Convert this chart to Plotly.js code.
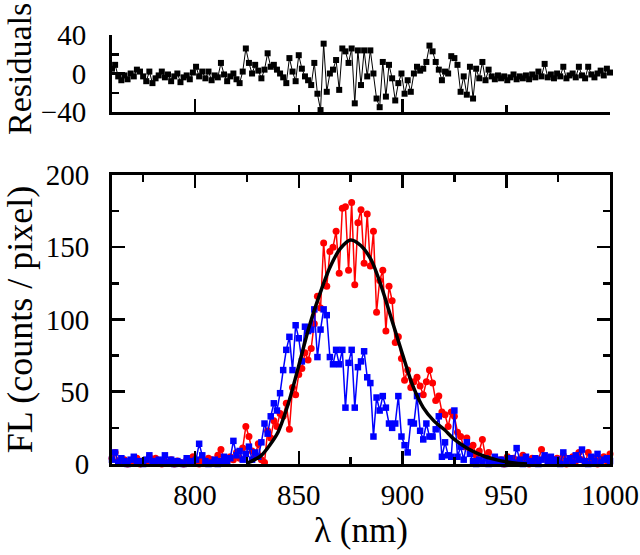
<!DOCTYPE html>
<html>
<head>
<meta charset="utf-8">
<script src="https://cdn.plot.ly/plotly-3.0.1.min.js"></script>
<style>html,body{margin:0;padding:0;background:#fff;}#chart{width:640px;height:555px;}</style>
</head>
<body>
<div id="chart"></div>
<script>
// Wavelength grid (nm)
const wavelength = [
760,761.5,763,764.5,766,767.5,769,770.5,772,773.5,
775,776.5,778,779.5,781,782.5,784,785.5,787,788.5,
790,791.5,793,794.5,796,797.5,799,800.5,802,803.5,
805,806.5,808,809.5,811,812.5,814,815.5,817,818.5,
820,821.5,823,824.5,826,827.5,829,830.5,832,833.5,
835,836.5,838,839.5,841,842.5,844,845.5,847,848.5,
850,851.5,853,854.5,856,857.5,859,860.5,862,863.5,
865,866.5,868,869.5,871,872.5,874,875.5,877,878.5,
880,881.5,883,884.5,886,887.5,889,890.5,892,893.5,
895,896.5,898,899.5,901,902.5,904,905.5,907,908.5,
910,911.5,913,914.5,916,917.5,919,920.5,922,923.5,
925,926.5,928,929.5,931,932.5,934,935.5,937,938.5,
940,941.5,943,944.5,946,947.5,949,950.5,952,953.5,
955,956.5,958,959.5,961,962.5,964,965.5,967,968.5,
970,971.5,973,974.5,976,977.5,979,980.5,982,983.5,
985,986.5,988,989.5,991,992.5,994,995.5,997,998.5,
1000];

// Red spectrum (counts / pixel)
const redFL = [
4,8,2,1,3,0,2,1,4,0,
2,1,5,3,4,1,0,2,1,3,
0,2,1,0,3,1,5,2,0,3,
1,4,3,1,6,10,4,2,5,3,
8,4,11,26,19,9,6,14,3,1,
23,18,30,26,35,33,42,24,53,48,
62,66,77,72,80,97,116,108,153,123,
147,150,161,132,177,178,134,181,124,167,
176,139,173,137,161,105,127,134,92,123,
113,84,88,73,58,65,53,57,60,54,
48,57,65,56,44,47,36,34,26,36,
33,22,19,12,18,10,13,6,9,17,
5,8,2,4,1,3,0,5,2,4,
1,3,6,2,0,4,1,3,10,5,
2,4,1,4,2,6,0,3,5,2,
8,3,1,8,2,4,0,3,5,2,
7];

// Blue spectrum (counts / pixel)
const blueFL = [
3,8,1,4,2,0,3,5,1,2,
0,3,6,2,1,3,2,6,1,3,
0,2,1,0,4,2,1,3,14,6,
2,0,1,3,0,2,5,1,4,16,
6,9,3,7,12,3,8,5,15,28,
21,33,42,37,49,65,79,88,65,96,
87,71,95,92,93,107,74,93,107,103,
74,69,79,69,79,39,70,79,39,67,
71,78,60,56,19,46,37,47,39,28,
25,28,47,19,13,8,29,28,47,23,
17,28,19,19,24,33,5,15,6,5,
37,5,12,3,15,7,2,0,3,1,
4,0,2,5,1,3,0,2,4,1,
11,3,0,5,2,1,4,0,3,6,
2,5,1,3,0,8,2,4,1,6,
3,10,2,0,5,2,7,1,3,4,
2];

// Residuals of the fit
const residuals = [
5,9,-3,-7,-2,-6,0,-3,4,2,
-3,-8,2,-10,-5,-2,2,-4,-1,-8,
-3,0,-9,-4,-2,-6,1,7,-3,2,
-5,2,-7,-2,-4,11,-1,-8,-3,0,
-6,-10,2,26,11,0,9,3,-5,4,
21,7,9,4,0,-4,-10,16,2,-8,
19,5,-3,-7,-12,11,-21,-38,31,-19,
0,4,14,-17,26,23,11,26,-31,24,
-12,24,-3,24,0,-26,-35,12,-24,9,
-5,-28,-10,0,-21,-7,-19,0,7,3,
5,12,29,23,12,4,-7,2,0,18,
16,9,-19,-3,-22,7,-26,5,-5,12,
-7,4,-3,-6,-2,-5,-3,-7,-4,-1,
-6,-3,-5,-2,-6,-1,-4,2,-3,10,
-4,-1,-5,0,-3,7,-5,-2,0,-4,
7,-2,-5,7,-1,-4,0,3,-2,5,
1];

// Fit curve
const fitX = [825,828,832,836,840,845,850,855,860,865,870,875,880,885,890,895,900,905,910,915,920,925,930,935,940,945,950,955,960];
const fitY = [0.5,2.5,6,13,22,42,68,95,117,136,149,155,151,141,122,99,76,54,39,30,24,17,12,8,5,3,1.5,0.5,0];

const FONT = '"Liberation Serif", "Times New Roman", Times, serif';

const traces = [
  {x: wavelength, y: redFL, xaxis: 'x', yaxis: 'y', type: 'scatter', mode: 'lines+markers',
   line: {color: '#ff0000', width: 1.5}, marker: {symbol: 'circle', size: 7, color: '#ff0000'},
   cliponaxis: false, showlegend: false},
  {x: wavelength, y: blueFL, xaxis: 'x', yaxis: 'y', type: 'scatter', mode: 'lines+markers',
   line: {color: '#0000ff', width: 1.5}, marker: {symbol: 'square', size: 6.5, color: '#0000ff'},
   cliponaxis: false, showlegend: false},
  {x: fitX, y: fitY, xaxis: 'x', yaxis: 'y', type: 'scatter', mode: 'lines',
   line: {color: '#000000', width: 3.5, shape: 'spline', smoothing: 0.8}, showlegend: false},
  {x: wavelength, y: residuals, xaxis: 'x2', yaxis: 'y2', type: 'scatter', mode: 'lines+markers',
   line: {color: '#000000', width: 1}, marker: {symbol: 'square', size: 6, color: '#000000'},
   cliponaxis: false, showlegend: false}
];

const axisCommon = {
  showline: true, linecolor: '#000', linewidth: 3, ticks: 'inside', tickcolor: '#000',
  tickwidth: 2.5, showgrid: false, zeroline: false,
  tickfont: {family: FONT, size: 29, color: '#000'}
};

const layout = {
  width: 640, height: 555,
  margin: {l: 112, r: 30, t: 35, b: 91, pad: 0},
  paper_bgcolor: '#fff', plot_bgcolor: '#fff',
  font: {family: FONT, color: '#000'},
  xaxis: Object.assign({}, axisCommon, {
    domain: [0, 1], anchor: 'y', range: [760, 1000], tick0: 800, dtick: 50, ticklen: 13,
    minor: {dtick: 25, tick0: 775, ticklen: 7, tickwidth: 2.5, tickcolor: '#000', ticks: 'inside'},
    mirror: 'ticks', ticklabelstandoff: 3,
    title: {text: 'λ (nm)', font: {family: FONT, size: 35, color: '#000'}, standoff: 0}
  }),
  yaxis: Object.assign({}, axisCommon, {
    domain: [0, 0.6737], anchor: 'x', range: [0, 200], tick0: 0, dtick: 50, ticklen: 13,
    minor: {dtick: 25, ticklen: 7, tickwidth: 2.5, tickcolor: '#000', ticks: 'inside'},
    mirror: 'ticks', ticklabelstandoff: 14,
    title: {text: 'FL (counts / pixel)', font: {family: FONT, size: 36, color: '#000'}, standoff: 13}
  }),
  xaxis2: Object.assign({}, axisCommon, {
    domain: [0, 1], anchor: 'y2', range: [760, 1000], tick0: 800, dtick: 100, ticklen: 13,
    minor: {dtick: 50, tick0: 850, ticklen: 7, tickwidth: 2.5, tickcolor: '#000', ticks: 'inside'},
    showticklabels: false
  }),
  yaxis2: Object.assign({}, axisCommon, {
    domain: [0.8205, 1], anchor: 'x2', range: [-40, 40], tick0: -40, dtick: 40, ticklen: 13,
    minor: {dtick: 20, ticklen: 7, tickwidth: 2.5, tickcolor: '#000', ticks: 'inside'},
    ticklabelstandoff: 17
  }),
  annotations: [
    {text: 'Residuals', xref: 'paper', yref: 'paper', x: -0.1847, y: 0.921,
     xanchor: 'center', yanchor: 'middle', textangle: -90, showarrow: false,
     font: {family: FONT, size: 34, color: '#000'}}
  ]
};

Plotly.newPlot('chart', traces, layout, {staticPlot: true, displayModeBar: false});
</script>
</body>
</html>
